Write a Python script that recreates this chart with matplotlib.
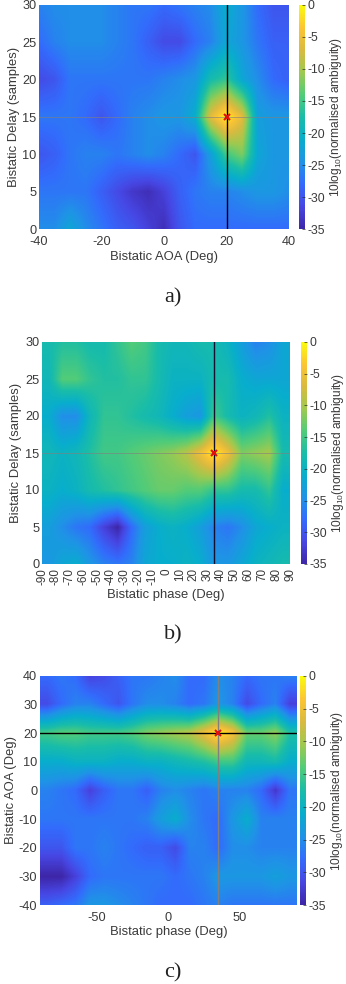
import numpy as np
import matplotlib
matplotlib.use("Agg")
import matplotlib.pyplot as plt
from matplotlib.colors import LinearSegmentedColormap

plt.rcParams['font.family'] = ['Liberation Sans', 'DejaVu Sans']
plt.rcParams['mathtext.default'] = 'regular'
plt.rcParams['axes.unicode_minus'] = False

# data grids (dB), rows go from the bottom of the plot upwards
aoa_a = [-40, -35, -30, -25, -20, -15, -10, -5, 0, 5, 10, 15, 20, 25, 30, 35, 40]
delay = [0, 5, 10, 15, 20, 25, 30]
phase = [-85, -75, -65, -55, -45, -35, -25, -15, -5, 5, 15, 25, 35, 45, 55, 65, 75, 85]
aoa_c = [-40, -30, -20, -10, 0, 10, 20, 30, 40]

za = [
    [-25, -25, -22, -25, -27, -29, -30, -32, -34, -30, -28, -28, -28, -28, -28, -28, -28],
    [-27, -27, -27, -27, -29, -31, -33, -34, -32, -29, -27, -26, -26, -25, -24, -24, -25],
    [-30, -29, -27, -26, -26, -27, -26, -25, -26, -28, -30, -23, -15, -12, -22, -24, -24],
    [-27, -27, -27, -28, -30, -28, -26, -25, -24, -24, -21, -6, 0, -6, -23, -24, -24],
    [-31, -30, -27, -27, -27, -27, -27, -27, -26, -25, -24, -18, -16, -22, -25, -28, -29],
    [-28, -26, -25, -25, -25, -26, -27, -29, -31, -31, -28, -26, -22, -24, -27, -29, -29],
    [-26, -25, -25, -25, -25, -26, -27, -27, -28, -27, -26, -25, -21, -24, -28, -30, -30],
]
zb = [
    [-24, -22, -21, -24, -26, -27, -26, -22, -21, -21, -20, -21, -24, -24, -22, -20, -19, -18],
    [-23, -25, -27, -28, -32, -35, -28, -23, -21, -20, -21, -23, -26, -27, -25, -22, -21, -20],
    [-20, -21, -20, -18, -17, -16, -15, -14, -13, -13, -14, -14, -16, -16, -18, -18, -16, -21],
    [-19, -20, -19, -17, -15, -15, -14, -13, -12, -11, -9, -5, 0, -5, -12, -11, -10, -18],
    [-21, -25, -25, -19, -16, -16, -17, -18, -19, -21, -23, -24, -15, -18, -20, -19, -17, -20],
    [-19, -14, -14, -16, -17, -17, -16, -16, -18, -20, -20, -20, -18, -18, -21, -22, -22, -22],
    [-18, -17, -17, -18, -18, -16, -14, -15, -18, -19, -19, -18, -18, -20, -23, -26, -25, -22],
]
zc = [
    [-29, -28, -27, -24, -24, -25, -26, -27, -28, -28, -28, -27, -26, -27, -27, -27, -27, -27],
    [-35, -35, -32, -28, -27, -27, -27, -27, -27, -28, -27, -26, -24, -24, -24, -24, -23, -24],
    [-30, -30, -27, -27, -26, -27, -28, -29, -29, -31, -26, -26, -28, -25, -25, -26, -26, -26],
    [-27, -27, -27, -27, -27, -27, -27, -26, -23, -21, -25, -27, -28, -24, -21, -26, -26, -26],
    [-26, -27, -28, -32, -29, -27, -27, -29, -26, -25, -26, -27, -26, -26, -26, -28, -33, -27],
    [-21, -21, -20, -20, -20, -21, -21, -20, -20, -19, -18, -17, -15, -15, -19, -19, -18, -21],
    [-15, -14, -14, -15, -15, -15, -14, -12, -11, -10, -9, -5, 0, -4, -13, -13, -11, -17],
    [-31, -28, -26, -26, -28, -30, -27, -25, -25, -26, -28, -27, -24, -26, -31, -28, -26, -32],
    [-28, -27, -28, -32, -31, -29, -27, -27, -26, -25, -28, -28, -25, -26, -28, -27, -27, -26],
]
cbar_ticks = [-35, -30, -25, -20, -15, -10, -5, 0]
phase_ticks_b = list(range(-90, 100, 10))

# parula-like colormap
parula = LinearSegmentedColormap.from_list("parula", [
    (0.2422, 0.1504, 0.6603), (0.2778, 0.2760, 0.8900), (0.2000, 0.4200, 0.9900),
    (0.1200, 0.5800, 0.9000), (0.0300, 0.6800, 0.8000), (0.1000, 0.7400, 0.6600),
    (0.3200, 0.8000, 0.4700), (0.6200, 0.7900, 0.3100), (0.8500, 0.7300, 0.2500),
    (0.9900, 0.7700, 0.2000), (0.9763, 0.9831, 0.0538)])

W, H = 346, 984
TXT = '#3a3a3a'
fig = plt.figure(figsize=(W / 100, H / 100), dpi=100)


def px_axes(x0, x1, y0, y1):
    return fig.add_axes([x0 / W, 1 - y1 / H, (x1 - x0) / W, (y1 - y0) / H])


def panel(box, cbox, x, y, z, xlab, ylab, xt, yt, xlab_y, ylab_x, cb_x, rot=0):
    ax = px_axes(*box)
    dx = x[1] - x[0]
    dy = y[1] - y[0]
    im = ax.imshow(z, origin='lower', aspect='auto', cmap=parula, vmin=-35, vmax=0,
                   interpolation='bilinear', interpolation_stage='data',
                   extent=[x[0] - dx / 2, x[-1] + dx / 2, y[0] - dy / 2, y[-1] + dy / 2])
    ax.set_xticks(xt)
    ax.set_yticks(yt)
    ax.tick_params(labelsize=9.2, colors=TXT, length=0, pad=2)
    if rot == 0:
        ax.tick_params(axis='x', pad=5)
    else:
        ax.tick_params(axis='x', labelrotation=rot, pad=3, labelsize=8.4)
    ax.set_xlabel(xlab, fontsize=9.4, color=TXT)
    ax.set_ylabel(ylab, fontsize=9.4, color=TXT)
    # label places in axes fractions, from pixel positions
    ax.xaxis.set_label_coords(0.5, -(xlab_y - box[3]) / (box[3] - box[2]))
    ax.xaxis.label.set_va('center')
    ax.yaxis.set_label_coords((ylab_x - box[0]) / (box[1] - box[0]), 0.5)
    ax.yaxis.label.set_va('center')
    for s in ax.spines.values():
        s.set_visible(False)
    cax = px_axes(*cbox)
    cb = fig.colorbar(im, cax=cax, ticks=cbar_ticks)
    cb.outline.set_visible(False)
    cb.ax.tick_params(labelsize=8.8, labelcolor=TXT, color='#303030', direction='in',
                      length=2, width=0.5, pad=2)
    cb.set_label('10log$_{10}$(normalised ambiguity)', fontsize=8.6, color=TXT)
    cb.ax.yaxis.set_label_coords((cb_x - cbox[0]) / (cbox[1] - cbox[0]), 0.5)
    cb.ax.yaxis.label.set_va('center')
    return ax


# a)
ax = panel((39, 289, 5, 229), (299, 305, 5, 229), aoa_a, delay, za,
           'Bistatic AOA (Deg)', 'Bistatic Delay (samples)',
           [-40, -20, 0, 20, 40], [0, 5, 10, 15, 20, 25, 30], 257, 14, 336)
ax.set_xlim(-40, 40)
ax.set_ylim(0, 30)
ax.axhline(15, color='#808080', lw=0.6, alpha=0.7)
ax.axvline(20, color='black', lw=1)
ax.plot(20, 15, 'x', color='#e01010', ms=4.5, mew=1.5)

# b)
ax = panel((42, 290, 342, 564), (301, 307, 342, 564), phase, delay, zb,
           'Bistatic phase (Deg)', 'Bistatic Delay (samples)',
           phase_ticks_b, [0, 5, 10, 15, 20, 25, 30], 595, 16, 338, rot=90)
ax.set_xlim(-90, 90)
ax.set_ylim(0, 30)
ax.axhline(15, color='#808080', lw=0.6, alpha=0.7)
ax.axvline(35, color='#101030', lw=1)
ax.plot(35, 15, 'x', color='#e01010', ms=4.5, mew=1.5)

# c)
ax = panel((40, 297, 676, 905), (300, 306, 676, 905), phase, aoa_c, zc,
           'Bistatic phase (Deg)', 'Bistatic AOA (Deg)',
           [-50, 0, 50], aoa_c, 932, 11, 337)
ax.set_xlim(-90, 90)
ax.set_ylim(-40, 40)
ax.axvline(35, color='#808080', lw=1)
ax.axhline(20, color='black', lw=1)
ax.plot(35, 20, 'x', color='#e01010', ms=4.5, mew=1.5)

for lab, ypx, xpx in [('a)', 298, 173), ('b)', 635, 173), ('c)', 973, 173)]:
    fig.text(xpx / W, 1 - ypx / H, lab, ha='center', va='center', fontsize=16,
             family=['Liberation Serif', 'DejaVu Serif'], color='#202020')

fig.savefig('out.png', dpi=100)
